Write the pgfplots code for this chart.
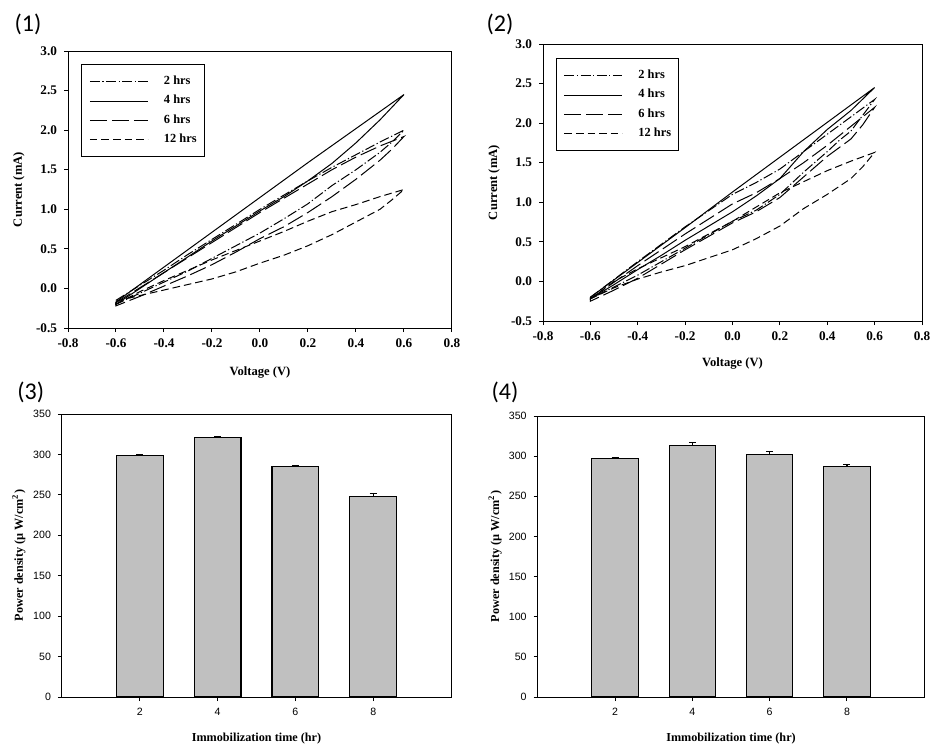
\documentclass[border=0pt]{standalone}
\usepackage{fontspec}
\setmainfont{Liberation Serif}
\newfontfamily\sansf{Liberation Sans}
\newfontfamily\calib{Carlito}
\usepackage{pgfplots}
\pgfplotsset{compat=1.18}
\definecolor{barg}{RGB}{192,192,192}
\tikzset{
  dd2/.style={line width=0.5pt,dash pattern=on 5pt off 1.25pt on 0.6pt off 1.25pt},
  so4/.style={line width=0.5pt,solid},
  ld6/.style={line width=0.5pt,dash pattern=on 8.5pt off 2.5pt},
  sd12/.style={line width=0.5pt,dash pattern=on 3.8pt off 2pt},
}
\pgfplotsset{
  cvaxis/.style={
    scale only axis,
    anchor=south west,
    xmin=-0.8,xmax=0.8,ymin=-0.5,ymax=3.0,
    xtick={-0.8,-0.6,-0.4,-0.2,0,0.2,0.4,0.6,0.8},
    ytick={-0.5,0,0.5,1,1.5,2,2.5,3},
    tick align=outside, tick pos=left,
    major tick length=2pt,
    axis line style={line width=0.5pt},
    tick style={line width=0.5pt,black},
    /pgf/number format/assume math mode=true,
    /pgf/number format/fixed,
    /pgf/number format/fixed zerofill,
    /pgf/number format/precision=1,
    ticklabel style={font=\fontsize{6.6}{7}\selectfont\bfseries},
    label style={font=\fontsize{6.3}{7}\selectfont\bfseries},
    xlabel={Voltage (V)},
    ylabel={Current (mA)},
    legend cell align=left,
    legend image code/.code={\draw[##1] (0pt,0pt) -- (29pt,0pt); \path (36.8pt,0pt);},
    legend style={anchor=north west, draw=black, line width=0.5pt,
      inner xsep=3.8pt, inner ysep=5.5pt, row sep=3.9pt,
      font=\fontsize{6.2}{7}\selectfont\bfseries, nodes={inner sep=0pt}},
  },
  baraxis/.style={
    scale only axis,
    anchor=south west,
    xmin=0,xmax=10,ymin=0,ymax=350,
    xtick={2,4,6,8},
    ytick={0,50,100,150,200,250,300,350},
    tick align=outside, tick pos=left,
    major tick length=2pt,
    axis line style={line width=0.5pt},
    tick style={line width=0.5pt,black},
    /pgf/number format/assume math mode=true,
    ticklabel style={font=\fontsize{5.3}{6}\sansf},
    label style={font=\fontsize{6.1}{7}\selectfont\bfseries},
    xlabel={Immobilization time (hr)},
    ylabel={Power density (µ W/cm\textsuperscript{2})},
    ybar, bar width=1.2,
  },
}
\begin{document}
\begin{tikzpicture}
\useasboundingbox (0,0) rectangle (468pt,373pt);
\node[font=\fontsize{12}{14}\calib] at (14pt,361pt) {(1)};
\node[font=\fontsize{12}{14}\calib] at (250pt,361pt) {(2)};
\node[font=\fontsize{12}{14}\calib] at (15.4pt,176.8pt) {(3)};
\node[font=\fontsize{12}{14}\calib] at (252.5pt,176.8pt) {(4)};

% ---------- (1)
\begin{axis}[cvaxis, at={(34pt,209pt)}, width=192pt, height=138.5pt,
  xlabel style={at={(axis description cs:0.5,-0.159)},anchor=center},
  ylabel style={at={(axis description cs:-0.128,0.5)},anchor=center},
  legend style={at={(0.0346,0.952)}}]
\addplot[dd2] coordinates {(-0.6,-0.15) (-0.5,0.04) (-0.4,0.23) (-0.3,0.43) (-0.2,0.62) (-0.1,0.81) (0,1.0) (0.1,1.18) (0.2,1.36) (0.3,1.53) (0.4,1.69) (0.5,1.85) (0.6,2.0)
 (0.55,1.85) (0.5,1.72) (0.4,1.5) (0.3,1.3) (0.2,1.07) (0.1,0.88) (0,0.7) (-0.1,0.54) (-0.2,0.38) (-0.3,0.22) (-0.4,0.08) (-0.5,-0.06) (-0.6,-0.2) (-0.6,-0.15)};
\addlegendentry{2 hrs}
\addplot[so4] coordinates {(-0.6,-0.17) (-0.4,0.27) (-0.2,0.71) (0,1.15) (0.2,1.59) (0.4,2.02) (0.6,2.45)
 (0.5,2.13) (0.4,1.84) (0.3,1.58) (0.2,1.36) (0.1,1.16) (0,0.98) (-0.1,0.79) (-0.2,0.6) (-0.3,0.4) (-0.4,0.2) (-0.5,0.0) (-0.6,-0.2) (-0.6,-0.17)};
\addlegendentry{4 hrs}
\addplot[ld6] coordinates {(-0.6,-0.18) (-0.4,0.2) (-0.2,0.58) (0,0.96) (0.1,1.14) (0.2,1.32) (0.3,1.5) (0.4,1.66) (0.5,1.8) (0.6,1.92)
 (0.55,1.76) (0.5,1.62) (0.4,1.38) (0.3,1.16) (0.2,0.96) (0.1,0.78) (0,0.63) (-0.1,0.46) (-0.2,0.3) (-0.3,0.16) (-0.4,0.03) (-0.5,-0.1) (-0.6,-0.22) (-0.6,-0.18)};
\addlegendentry{6 hrs}
\addplot[sd12] coordinates {(-0.6,-0.2) (-0.5,-0.04) (-0.4,0.1) (-0.3,0.23) (-0.2,0.36) (-0.1,0.48) (0,0.6) (0.1,0.72) (0.2,0.85) (0.3,0.97) (0.4,1.06) (0.5,1.16) (0.6,1.25)
 (0.55,1.12) (0.5,1.0) (0.4,0.84) (0.3,0.68) (0.2,0.54) (0.1,0.42) (0,0.32) (-0.1,0.21) (-0.2,0.12) (-0.3,0.05) (-0.4,-0.02) (-0.5,-0.09) (-0.6,-0.16) (-0.6,-0.2)};
\addlegendentry{12 hrs}
\end{axis}

% ---------- (2)
\begin{axis}[cvaxis, at={(271.5pt,212.5pt)}, width=189.5pt, height=138.5pt,
  xlabel style={at={(axis description cs:0.5,-0.155)},anchor=center},
  ylabel style={at={(axis description cs:-0.129,0.5)},anchor=center},
  legend style={at={(0.0335,0.948)}}]
\addplot[dd2] coordinates {(-0.6,-0.2) (-0.4,0.25) (-0.2,0.69) (0,1.1) (0.1,1.25) (0.2,1.42) (0.3,1.64) (0.4,1.86) (0.5,2.08) (0.6,2.3)
 (0.55,2.1) (0.5,1.9) (0.45,1.78) (0.4,1.64) (0.3,1.38) (0.2,1.1) (0.1,0.9) (0,0.76) (-0.1,0.59) (-0.2,0.42) (-0.3,0.25) (-0.4,0.08) (-0.5,-0.07) (-0.6,-0.22) (-0.6,-0.2)};
\addlegendentry{2 hrs}
\addplot[so4] coordinates {(-0.6,-0.2) (-0.4,0.24) (-0.2,0.68) (0,1.13) (0.2,1.57) (0.4,2.01) (0.6,2.45)
 (0.5,2.16) (0.4,1.92) (0.3,1.64) (0.2,1.3) (0.1,1.08) (0,0.88) (-0.1,0.7) (-0.2,0.52) (-0.3,0.33) (-0.4,0.15) (-0.5,-0.04) (-0.6,-0.22) (-0.6,-0.2)};
\addlegendentry{4 hrs}
\addplot[ld6] coordinates {(-0.6,-0.22) (-0.4,0.2) (-0.2,0.6) (0,0.98) (0.1,1.12) (0.2,1.3) (0.3,1.5) (0.4,1.72) (0.5,1.96) (0.6,2.2)
 (0.55,1.98) (0.5,1.8) (0.4,1.58) (0.3,1.32) (0.2,1.06) (0.1,0.88) (0,0.74) (-0.1,0.57) (-0.2,0.4) (-0.3,0.22) (-0.4,0.04) (-0.5,-0.11) (-0.6,-0.25) (-0.6,-0.22)};
\addlegendentry{6 hrs}
\addplot[sd12] coordinates {(-0.6,-0.22) (-0.5,0.0) (-0.4,0.16) (-0.3,0.3) (-0.2,0.44) (-0.1,0.6) (0,0.76) (0.1,0.94) (0.2,1.12) (0.3,1.26) (0.4,1.4) (0.5,1.52) (0.6,1.63)
 (0.55,1.45) (0.5,1.3) (0.4,1.1) (0.3,0.92) (0.2,0.7) (0.1,0.54) (0,0.4) (-0.1,0.3) (-0.2,0.2) (-0.3,0.12) (-0.4,0.03) (-0.5,-0.08) (-0.6,-0.22)};
\addlegendentry{12 hrs}
\end{axis}

% ---------- (3)
\begin{axis}[baraxis, at={(31pt,24.5pt)}, width=194.5pt, height=141.5pt,
  xlabel style={at={(axis description cs:0.5,-0.146)},anchor=center},
  ylabel style={at={(axis description cs:-0.111,0.5)},anchor=center}]
\addplot[fill=barg, draw=black, line width=0.6pt,
  error bars/.cd, y dir=plus, y explicit,
  error bar style={line width=0.6pt,black},
  error mark options={rotate=90,mark size=1.75pt,line width=0.6pt,black}]
 coordinates {(2,299) +- (0,1) (4,321) +- (0,1) (6,285) +- (0,1) (8,248) +- (0,3.5)};
\end{axis}

% ---------- (4)
\begin{axis}[baraxis, at={(268.85pt,24.5pt)}, width=193.3pt, height=140.5pt,
  xlabel style={at={(axis description cs:0.5,-0.147)},anchor=center},
  ylabel style={at={(axis description cs:-0.110,0.5)},anchor=center}]
\addplot[fill=barg, draw=black, line width=0.6pt,
  error bars/.cd, y dir=plus, y explicit,
  error bar style={line width=0.6pt,black},
  error mark options={rotate=90,mark size=1.75pt,line width=0.6pt,black}]
 coordinates {(2,297) +- (0,1.2) (4,313.5) +- (0,3.6) (6,302.5) +- (0,3.6) (8,287.5) +- (0,2)};
\end{axis}
\end{tikzpicture}
\end{document}
